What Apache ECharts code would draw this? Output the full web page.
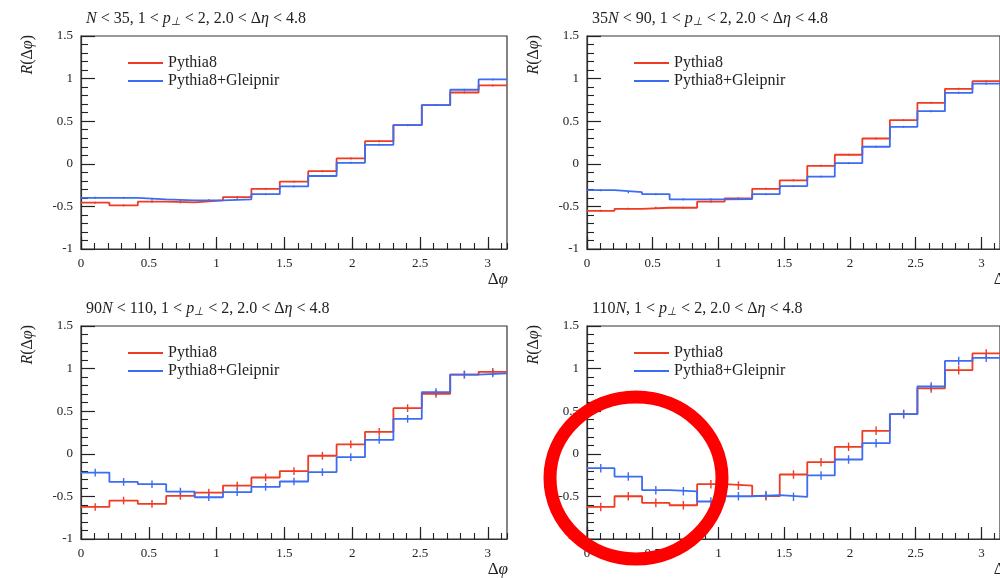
<!DOCTYPE html>
<html>
<head>
<meta charset="utf-8">
<script src="https://cdn.jsdelivr.net/npm/echarts@6/dist/echarts.min.js"></script>
<style>
html, body { margin: 0; padding: 0; background: #fff; }
#main { width: 1000px; height: 578px; }
</style>
</head>
<body>
<div id="main"></div>
<script>
// 15 bins in delta phi, 0 .. pi
const nBins = 15;
const phiMax = Math.PI;
const binEdges = [];
for (let k = 0; k <= nBins; k++) binEdges.push(k * phiMax / nBins);

// panel titles (rich text)
const titles = [
  '{i|N} < 35, 1 < {i|p}{s|⊥} < 2, 2.0 < Δ{i|η} < 4.8',
  '35{i|N} < 90, 1 < {i|p}{s|⊥} < 2, 2.0 < Δ{i|η} < 4.8',
  '90{i|N} < 110, 1 < {i|p}{s|⊥} < 2, 2.0 < Δ{i|η} < 4.8',
  '110{i|N}, 1 < {i|p}{s|⊥} < 2, 2.0 < Δ{i|η} < 4.8'
];

// R(dphi) per bin
const pythiaN35 = [-0.456, -0.488, -0.444, -0.452, -0.43, -0.39, -0.294, -0.21, -0.087, 0.063, 0.266, 0.454, 0.689, 0.837, 0.92];
const gleipN35  = [-0.40, -0.40, -0.417, -0.43, -0.43, -0.417, -0.357, -0.266, -0.143, 0.012, 0.223, 0.454, 0.689, 0.869, 0.99];

const pythiaN90 = [-0.552, -0.528, -0.516, -0.516, -0.444, -0.405, -0.294, -0.194, -0.024, 0.106, 0.297, 0.513, 0.716, 0.88, 0.97];
const gleipN90  = [-0.31, -0.333, -0.357, -0.417, -0.417, -0.413, -0.357, -0.262, -0.151, 0.008, 0.2, 0.434, 0.618, 0.833, 0.94];

const pythiaN110 = [-0.624, -0.549, -0.588, -0.494, -0.455, -0.373, -0.278, -0.203, -0.023, 0.11, 0.258, 0.536, 0.704, 0.93, 0.962];
const gleipN110  = [-0.22, -0.33, -0.357, -0.443, -0.51, -0.45, -0.388, -0.325, -0.215, -0.04, 0.164, 0.41, 0.724, 0.93, 0.943];

const pythiaN110p = [-0.624, -0.498, -0.576, -0.604, -0.357, -0.373, -0.497, -0.243, -0.098, 0.082, 0.27, 0.466, 0.767, 0.982, 1.178];
const gleipN110p  = [-0.169, -0.267, -0.427, -0.44, -0.56, -0.498, -0.485, -0.505, -0.254, -0.067, 0.125, 0.466, 0.79, 1.09, 1.127];

// half size of the error bars in each panel
const errN35 = 0.012;
const errN90 = 0.012;
const errN110 = 0.045;
const errN110p = 0.05;

const panels = [
  { red: pythiaN35, blue: gleipN35, err: errN35 },
  { red: pythiaN90, blue: gleipN90, err: errN90 },
  { red: pythiaN110, blue: gleipN110, err: errN110 },
  { red: pythiaN110p, blue: gleipN110p, err: errN110p }
];

const FONT = 'Liberation Serif';
const RED = '#ef3b22';
const BLUE = '#3c6cf2';
const gridLeft = [81, 587, 81, 587];
const gridTop = [36, 36, 326, 326];
const gridW = 426, gridH = 213;

const richText = {
  i: { fontStyle: 'italic', fontFamily: FONT, fontSize: 16, color: '#222' },
  s: { fontStyle: 'italic', fontFamily: FONT, fontSize: 11, color: '#222', padding: [8, 0, 0, 0] }
};

// histogram outline as step line
function stepData(vals) {
  const pts = vals.map((v, k) => [binEdges[k], v]);
  pts.push([binEdges[nBins], vals[nBins - 1]]);
  return pts;
}
function errData(vals, e) {
  return vals.map((v, k) => [(binEdges[k] + binEdges[k + 1]) / 2, v, e]);
}
function errBar(color) {
  return function (params, api) {
    const x = api.value(0), y = api.value(1), e = api.value(2);
    const a = api.coord([x, y - e]);
    const b = api.coord([x, y + e]);
    return {
      type: 'line',
      shape: { x1: a[0], y1: a[1], x2: b[0], y2: b[1] },
      style: { stroke: color, lineWidth: 1.4 }
    };
  };
}

const title = [], grid = [], xAxis = [], yAxis = [], legend = [], series = [], graphic = [];

panels.forEach((p, i) => {
  title.push({
    text: titles[i],
    left: gridLeft[i],
    top: gridTop[i] - 32,
    textStyle: { fontFamily: FONT, fontSize: 16, fontWeight: 'normal', color: '#222', rich: richText }
  });
  grid.push({
    left: gridLeft[i], top: gridTop[i], width: gridW, height: gridH,
    show: true, borderColor: '#333', borderWidth: 1.2
  });
  // major ticks + labels
  xAxis.push({
    gridIndex: i, type: 'value', min: 0, max: phiMax, interval: 0.5, position: 'bottom',
    axisLine: { onZero: false, lineStyle: { color: '#333', width: 1.2 } },
    axisTick: { inside: true, length: 12, lineStyle: { color: '#222', width: 1.2 } },
    axisLabel: { margin: 8, fontFamily: FONT, fontSize: 13, color: '#222', showMaxLabel: false },
    splitLine: { show: false }
  });
  // minor ticks every 0.1
  xAxis.push({
    gridIndex: i, type: 'value', min: 0, max: phiMax, interval: 0.1, position: 'bottom',
    axisLine: { show: false, onZero: false },
    axisTick: { inside: true, length: 6, lineStyle: { color: '#222', width: 1.1 } },
    axisLabel: { show: false },
    splitLine: { show: false }
  });
  yAxis.push({
    gridIndex: i, type: 'value', min: -1, max: 1.5, interval: 0.5,
    axisLine: { show: true, onZero: false, lineStyle: { color: '#333', width: 1.2 } },
    axisTick: { inside: true, length: 14, lineStyle: { color: '#222', width: 1.2 } },
    minorTick: { show: true, splitNumber: 5, length: 7, lineStyle: { color: '#222', width: 1.1 } },
    axisLabel: { margin: 8, fontFamily: FONT, fontSize: 13, color: '#222' },
    splitLine: { show: false }
  });
  legend.push({
    data: ['Pythia8', 'Pythia8+Gleipnir'],
    orient: 'vertical',
    left: gridLeft[i] + 42,
    top: gridTop[i] + 14,
    icon: 'rect',
    itemWidth: 35, itemHeight: 1.8, itemGap: 2,
    textStyle: { fontFamily: FONT, fontSize: 16, color: '#222', lineHeight: 16 }
  });
  const xi = i * 2;
  series.push({
    name: 'Pythia8', type: 'line', step: 'end', xAxisIndex: xi, yAxisIndex: i,
    symbol: 'none', lineStyle: { color: RED, width: 1.8 }, itemStyle: { color: RED },
    data: stepData(p.red), animation: false
  });
  series.push({
    name: 'Pythia8+Gleipnir', type: 'line', step: 'end', xAxisIndex: xi, yAxisIndex: i,
    symbol: 'none', lineStyle: { color: BLUE, width: 1.8 }, itemStyle: { color: BLUE },
    data: stepData(p.blue), animation: false
  });
  series.push({
    name: 'errP' + i, type: 'custom', xAxisIndex: xi, yAxisIndex: i,
    renderItem: errBar(RED), data: errData(p.red, p.err), animation: false
  });
  series.push({
    name: 'errG' + i, type: 'custom', xAxisIndex: xi, yAxisIndex: i,
    renderItem: errBar(BLUE), data: errData(p.blue, p.err), animation: false
  });
  // axis titles
  graphic.push({
    type: 'text', x: gridLeft[i] - 53, y: gridTop[i] - 1, rotation: Math.PI / 2,
    style: {
      text: '{i|R}(Δ{i|φ})', align: 'right', verticalAlign: 'middle',
      font: '16px "Liberation Serif"', fill: '#222',
      rich: { i: { fontStyle: 'italic', fontFamily: FONT, fontSize: 16, fill: '#222' } }
    }
  });
  graphic.push({
    type: 'text', x: gridLeft[i] + gridW + 1, y: gridTop[i] + gridH + 31,
    style: {
      text: 'Δ{i|φ}', align: 'right', verticalAlign: 'middle',
      font: '17px "Liberation Serif"', fill: '#222',
      rich: { i: { fontStyle: 'italic', fontFamily: FONT, fontSize: 17, fill: '#222' } }
    }
  });
});

// hand drawn red circle on the last panel
graphic.push({
  type: 'ellipse',
  shape: { cx: 636, cy: 478, rx: 86, ry: 81 },
  style: { fill: 'none', stroke: '#ff0000', lineWidth: 13 },
  z: 100
});

const chart = echarts.init(document.getElementById('main'));
chart.setOption({
  animation: false,
  backgroundColor: '#fff',
  title: title,
  grid: grid,
  xAxis: xAxis,
  yAxis: yAxis,
  legend: legend,
  series: series,
  graphic: graphic
});
</script>
</body>
</html>
